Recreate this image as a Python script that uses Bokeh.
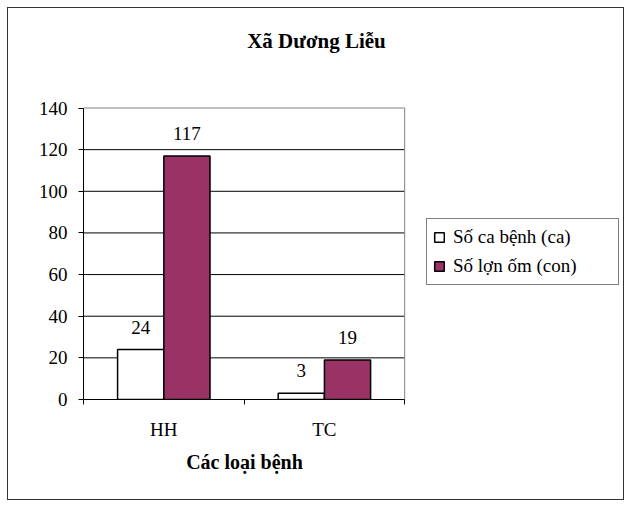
from bokeh.plotting import figure
from bokeh.models import (Range1d, FixedTicker, LinearAxis, ColumnDataSource, LabelSet,
                          Legend, LegendItem, Label)
from bokeh.embed import file_html
from bokeh.resources import INLINE

# ---- data ----
categories = ["HH", "TC"]
series_names = ["Số ca bệnh (ca)", "Số lợn ốm (con)"]
so_ca_benh = [24, 3]
so_lon_om = [117, 19]
y_ticks = [0, 20, 40, 60, 80, 100, 120, 140]
title_text = "Xã Dương Liễu"
x_title = "Các loại bệnh"

FONT = "Liberation Serif, Times New Roman, serif"
PURPLE = "#993366"
Y_MAX = y_ticks[-1]
N = len(categories)

# frame covers the whole area right of the y axis and above the x axis,
# so that the title and legend (drawn inside it) are not clipped
p = figure(width=617, height=493, output_backend="svg", toolbar_location=None,
           x_range=Range1d(0, N * 540 / 320), y_range=Range1d(0, Y_MAX * 389 / 290),
           x_axis_location=None, y_axis_location=None,
           min_border_left=75, min_border_right=0, min_border_top=0, min_border_bottom=102)
p.styles = {"border": "1px solid #333", "margin": "7px 0 0 7px"}
p.background_fill_color = "white"
p.border_fill_color = "white"
p.outline_line_color = None
p.grid.visible = False

# y axis
yax = LinearAxis(ticker=FixedTicker(ticks=y_ticks, minor_ticks=[]), bounds=(0, Y_MAX))
yax.axis_line_color = "black"
yax.major_tick_out = 5
yax.major_tick_in = 0
yax.major_tick_line_color = "black"
yax.major_label_text_font = FONT
yax.major_label_text_font_size = "19px"
yax.major_label_text_color = "black"
yax.major_label_standoff = 11
p.add_layout(yax, "left")

# x axis: labels at category centres, ticks at category boundaries
centers = [i + 0.5 for i in range(N)]
bounds = [i for i in range(N + 1)]
xax = LinearAxis(ticker=FixedTicker(ticks=centers, minor_ticks=bounds), bounds=(0, N))
xax.major_label_overrides = {c: lab for c, lab in zip(centers, categories)}
xax.axis_line_color = "black"
xax.major_tick_out = 0
xax.major_tick_in = 0
xax.minor_tick_out = 5
xax.minor_tick_in = 0
xax.minor_tick_line_color = "black"
xax.major_label_text_font = FONT
xax.major_label_text_font_size = "19px"
xax.major_label_text_color = "black"
xax.major_label_standoff = 14
# the axis title is centred on the (wide) frame; pad it so it sits under the bars
xax.axis_label = x_title + "\u00a0" * 44
xax.axis_label_text_font = FONT
xax.axis_label_text_font_size = "20px"
xax.axis_label_text_font_style = "bold"
xax.axis_label_text_color = "black"
xax.axis_label_standoff = 8
p.add_layout(xax, "below")

# horizontal grid lines (inner ticks) and the grey plot-area box
inner = y_ticks[1:-1]
p.segment(x0=[0] * len(inner), x1=[N] * len(inner), y0=inner, y1=inner,
          line_color="black", line_width=1)
p.quad(left=[0], right=[N], bottom=[0], top=[Y_MAX], fill_color=None,
       line_color="#808080", line_width=1)

# bars
bw = 0.2875
off = 0.144
src1 = ColumnDataSource(dict(x=[c - off for c in centers], top=so_ca_benh,
                             lab=[str(v) for v in so_ca_benh]))
src2 = ColumnDataSource(dict(x=[c + off for c in centers], top=so_lon_om,
                             lab=[str(v) for v in so_lon_om]))
r1 = p.vbar(x="x", top="top", bottom=0, width=bw, source=src1,
            fill_color="white", line_color="black", line_width=1.5)
r2 = p.vbar(x="x", top="top", bottom=0, width=bw, source=src2,
            fill_color=PURPLE, line_color="black", line_width=1.5)

for s in (src1, src2):
    ls = LabelSet(x="x", y="top", text="lab", source=s, text_align="center",
                  text_baseline="alphabetic", y_offset=16, text_font=FONT,
                  text_font_size="19px", text_color="black")
    p.add_layout(ls)

# title
p.add_layout(Label(x=233, y=359, x_units="screen", y_units="screen", text=title_text,
                   text_align="center", text_baseline="middle", text_font=FONT,
                   text_font_size="21px", text_font_style="bold", text_color="black"))

# legend
legend = Legend(items=[LegendItem(label=series_names[0], renderers=[r1]),
                       LegendItem(label=series_names[1], renderers=[r2])],
                location=(343, 114))
legend.border_line_color = "black"
legend.border_line_width = 1
legend.background_fill_color = "white"
legend.label_text_font = FONT
legend.label_text_font_size = "19px"
legend.label_text_color = "black"
legend.glyph_width = 12
legend.glyph_height = 12
legend.label_standoff = 8
legend.label_width = 159
legend.label_height = 24
legend.spacing = 5
legend.padding = 6
legend.margin = 0
p.add_layout(legend, "center")

open("out.html", "w").write(file_html(p, INLINE))
